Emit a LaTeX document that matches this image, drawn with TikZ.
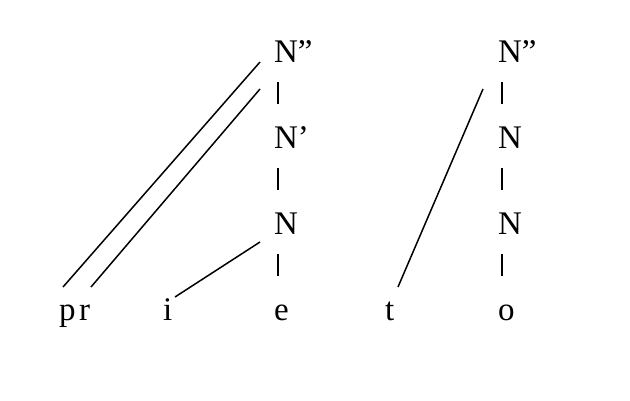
\documentclass[tikz,border=0pt]{standalone}
\usepackage{fontspec}
\setmainfont{Liberation Serif}
\usetikzlibrary{calc}
\begin{document}
\begin{tikzpicture}[x=1pt,y=-1pt,
  seg/.style={inner sep=0pt,outer sep=0pt,anchor=base west,font=\fontsize{33}{40}\selectfont},
  assoc/.style={line width=1.5pt},
  stem/.style={line width=2pt}]
\useasboundingbox[fill=white] (0,0) rectangle (630,400);
% column 1
\node[seg] (A2) at (274,62) {N”};
\node[seg] (A1) at (274,148) {N’};
\node[seg] (A0) at (274,234) {N};
\node[seg] (e) at (274,320) {e};
\node[seg] (p) at (59,320) {p};
\node[seg] (r) at (79,320) {r};
\node[seg] (i) at (163,320) {i};
% column 2
\node[seg] (B2) at (498,62) {N”};
\node[seg] (B1) at (498,148) {N};
\node[seg] (B0) at (498,234) {N};
\node[seg] (o) at (498,320) {o};
\node[seg] (t) at (385,320) {t};
% stems
\draw[stem] ($(A2.base west)+(4,20)$) -- ($(A2.base west)+(4,42)$);
\draw[stem] ($(A1.base west)+(4,20)$) -- ($(A1.base west)+(4,42)$);
\draw[stem] ($(A0.base west)+(4,20)$) -- ($(A0.base west)+(4,42)$);
\draw[stem] ($(B2.base west)+(4,20)$) -- ($(B2.base west)+(4,42)$);
\draw[stem] ($(B1.base west)+(4,20)$) -- ($(B1.base west)+(4,42)$);
\draw[stem] ($(B0.base west)+(4,20)$) -- ($(B0.base west)+(4,42)$);
% association lines
\draw[assoc] ($(A2.base west)+(-14,0)$) -- ($(p.base west)+(4,-33)$);
\draw[assoc] ($(A2.base west)+(-14,27)$) -- ($(r.base west)+(12,-33)$);
\draw[assoc] ($(A0.base west)+(-14,8)$) -- ($(i.base west)+(12,-23)$);
\draw[assoc] ($(B2.base west)+(-15,27)$) -- ($(t.base west)+(13,-33)$);
\end{tikzpicture}
\end{document}
